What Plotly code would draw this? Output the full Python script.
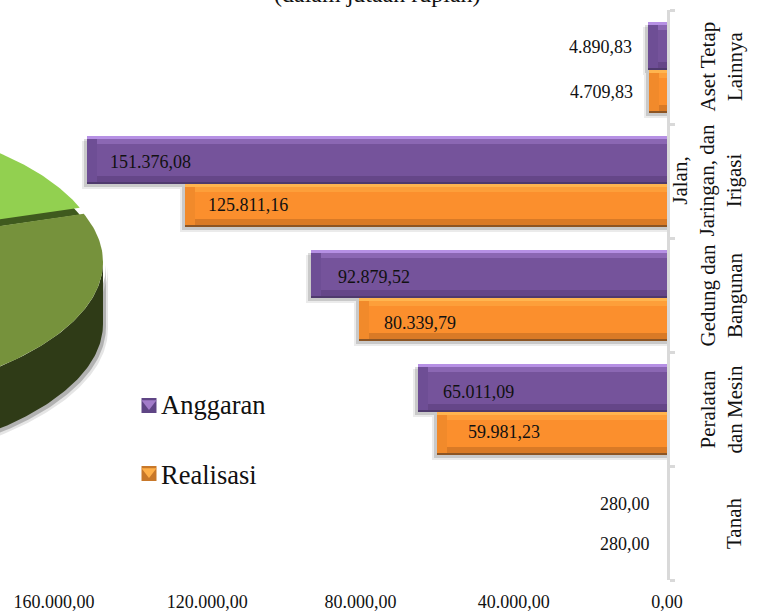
import numpy as np
import plotly.graph_objects as go

categories = ["Tanah", "Peralatan dan Mesin", "Gedung dan Bangunan", "Jalan, Jaringan, dan Irigasi", "Aset Tetap Lainnya"]
category_labels = ["Tanah", "Peralatan<br>dan Mesin", "Gedung dan<br>Bangunan", "Jalan,<br>Jaringan, dan<br>Irigasi", "Aset Tetap<br>Lainnya"]
anggaran = [280.00, 65011.09, 92879.52, 151376.08, 4890.83]
realisasi = [280.00, 59981.23, 80339.79, 125811.16, 4709.83]
anggaran_text = ["280,00", "65.011,09", "92.879,52", "151.376,08", "4.890,83"]
realisasi_text = ["280,00", "59.981,23", "80.339,79", "125.811,16", "4.709,83"]
tick_values = [0, 40000, 80000, 120000, 160000]
tick_labels = ["0,00", "40.000,00", "80.000,00", "120.000,00", "160.000,00"]
pie_shares = [0.30, 0.40, 0.30]   # estimated; only the first two are visible in the crop

FONT = "Liberation Serif"
W, H = 759, 612
PX_X = 160000 / 613
PX_Y = 1 / 114
DOMAIN_X = [54 / W, 667 / W]
DOMAIN_Y = [1 - 580 / H, 1 - 10 / H]
PURPLE = ["#75539b", "#b690e4", "#8b67b3", "#654688", "#6e4e95", "#4f3a6d"]
ORANGE = ["#fb8f2d", "#ffb54f", "#fd9f3a", "#d97a26", "#f18a2b", "#8c5524"]
SWATCH = [("#5f4585", "#a27cc9"), ("#c8782a", "#ffb04a")]

fig = go.Figure()

# ---- cropped pie in the pixel-based overlay axes
CX, CY, A, B = -250, 262, 353, 148
def arc(t0, t1, cx=CX, cy=CY, n=160):
    t = np.radians(np.linspace(t0, t1, n))
    return cx + A * np.cos(t), cy - B * np.sin(t)

def pie_trace(xs, ys, color):
    return go.Scatter(x=xs, y=ys, mode="lines", fill="toself", fillcolor=color,
                      line=dict(width=0, color=color), xaxis="x2", yaxis="y2",
                      showlegend=False, hoverinfo="skip")

START = 127.0
edges = START - 360 * np.cumsum([0] + pie_shares)
light_a, light_b = edges[0], edges[1]
olive_a, olive_b = edges[1], edges[2]
DEPTH = 62

def slice_poly(t0, t1, cx=CX, cy=CY):
    xs, ys = arc(t0, t1, cx, cy)
    return np.r_[cx, xs, cx], np.r_[cy, ys, cy]

def wall_poly(t0, t1, dx=0, dy=DEPTH):
    xs, ys = arc(t0, t1)
    return np.r_[xs, xs[::-1] + dx], np.r_[ys, ys[::-1] + dy]

for sx, sy, col in [(5, 5, "rgba(0,0,0,0.10)"), (3, 3, "rgba(0,0,0,0.22)")]:
    xs, ys = wall_poly(max(0, olive_a - 20), olive_b)
    fig.add_trace(pie_trace(xs + sx, ys + sy, col))
xs, ys = wall_poly(max(0, olive_a - 20), olive_b)
fig.add_trace(pie_trace(xs, ys, "#2f3b17"))

LX, LY = CX - 4, CY - 6
xs, ys = slice_poly(light_a, light_b, LX, LY)
fig.add_trace(pie_trace(xs, ys + 7, "#3f5a1e"))
xs, ys = slice_poly(olive_a, olive_b)
fig.add_trace(pie_trace(xs, ys, "#76923c"))
xs, ys = slice_poly(light_a, light_b, LX, LY)
fig.add_trace(pie_trace(xs, ys, "#92d050"))

# ---- bars
def bar(vals, offset, width, color, name=None, base=None, legend=False):
    return go.Bar(y=categories, x=vals, base=base, orientation="h", offset=offset, width=width,
                  marker=dict(color=color, line=dict(width=0)), name=name,
                  legendgroup=name if legend else None, showlegend=legend, hoverinfo="skip")

P_OFF, P_W = -3 * PX_Y, 48 * PX_Y
O_OFF, O_W = -46 * PX_Y, 43 * PX_Y
anggaran_arr, realisasi_arr = np.array(anggaran), np.array(realisasi)

def seen(vals):
    # a bar under about one pixel wide does not show in the reference
    return np.where(vals > 1000, vals, 0)

# soft shadows
for grow, drop, col in [(5, 5, "rgba(0,0,0,0.08)"), (3, 3, "rgba(0,0,0,0.14)")]:
    for vals, off, wid in [(anggaran_arr, P_OFF, P_W), (realisasi_arr, O_OFF, O_W)]:
        shown = np.where(vals > 1000, vals + grow * PX_X, 0)
        fig.add_trace(bar(shown, off - drop * PX_Y, wid, col))

def bevel(vals, off, wid, cols):
    main, top, top2, bot, left, edge = cols
    v = seen(vals)
    fig.add_trace(bar(v, off, wid, main))
    fig.add_trace(bar(v, off + wid - 3 * PX_Y, 3 * PX_Y, top))
    fig.add_trace(bar(v, off + wid - 8 * PX_Y, 5 * PX_Y, top2))
    fig.add_trace(bar(v, off + 2 * PX_Y, 6 * PX_Y, bot))
    fig.add_trace(bar(v, off, 2 * PX_Y, edge))
    fig.add_trace(bar(np.where(vals > 1000, -10 * PX_X, 0), off + 2 * PX_Y, wid - 5 * PX_Y, left, base=vals))

bevel(anggaran_arr, P_OFF, P_W, PURPLE)
bevel(realisasi_arr, O_OFF, O_W, ORANGE)

# legend entries: real legend text, glyph drawn separately so it sits close to the text
fig.add_trace(bar(anggaran, P_OFF, P_W, "rgba(0,0,0,0)", name="Anggaran", legend=True))
fig.add_trace(bar(realisasi, O_OFF, O_W, "rgba(0,0,0,0)", name="Realisasi", legend=True))
for yy, (body, light) in zip([405.5, 473.5], SWATCH):
    fig.add_trace(go.Scatter(x=[149, 149], y=[yy, yy - 2], mode="markers", xaxis="x2", yaxis="y2",
                             marker=dict(symbol=["square", "triangle-down"], size=[15, 13],
                                         color=[body, light], opacity=1, line=dict(width=0)),
                             showlegend=False, hoverinfo="skip"))

layout_annotations = []
label_sets = [
    (anggaran, anggaran_text, 19, [0, -2, 0, -4, 0], [0, 2, 1, 0, -1]),
    (realisasi, realisasi_text, -22, [0, 4, -2, -4, 0], [-1, 1, 6, 2, 3]),
]
for vals, texts, shift, nudge_x, nudge_y in label_sets:
    for c, v, s, nx, ny in zip(categories, vals, texts, nudge_x, nudge_y):
        inside = v > 20000
        layout_annotations.append(dict(
            x=v, y=c, xref="x", yref="y", text=s, showarrow=False,
            xanchor="left" if inside else "right", yanchor="middle",
            xshift=(25 if inside else -14) + nx, yshift=shift - ny,
            font=dict(family=FONT, size=18, color="#111111")))
for c, lab in zip(categories, category_labels):
    layout_annotations.append(dict(
        x=748 / W, y=c, xref="paper", yref="y", text=lab, showarrow=False, textangle=-90,
        xanchor="right", yanchor="middle", align="center",
        font=dict(family=FONT, size=21, color="#111111")))
layout_annotations.append(dict(
    x=377 / W, y=1 - 9 / H, xref="paper", yref="paper", text="(dalam jutaan rupiah)",
    showarrow=False, xanchor="center", yanchor="bottom",
    font=dict(family=FONT, size=24, color="#111111")))

fig.update_layout(
    width=W, height=H, margin=dict(l=0, r=0, t=0, b=0, autoexpand=False),
    paper_bgcolor="white", plot_bgcolor="rgba(0,0,0,0)",
    barmode="overlay", bargap=0,
    font=dict(family=FONT, color="#111111"),
    annotations=layout_annotations,
    legend=dict(x=129 / W, y=1 - 380 / H, xanchor="left", yanchor="top", indentation=-8,
                font=dict(family=FONT, size=26.5, color="#111111"), tracegroupgap=32,
                bgcolor="rgba(0,0,0,0)", itemclick=False, itemdoubleclick=False),
    xaxis=dict(domain=DOMAIN_X, range=[160000, 0], tickvals=tick_values, ticktext=tick_labels,
               tickfont=dict(family=FONT, size=18, color="#111111"), ticks="", showgrid=False,
               zeroline=False, showline=False, ticklabelstandoff=9, anchor="y", automargin=False),
    yaxis=dict(domain=DOMAIN_Y, type="category", categoryorder="array", categoryarray=categories,
               range=[-0.5, 4.5], side="right", anchor="x", tickson="boundaries", automargin=False,
               ticks="outside", ticklen=5, tickwidth=3, tickcolor="#d9d9d9", showticklabels=False,
               showline=True, linecolor="#d9d9d9", linewidth=3, showgrid=False, zeroline=False),
    xaxis2=dict(domain=[0, 1], range=[0, W], visible=False, anchor="y2", fixedrange=True, automargin=False),
    yaxis2=dict(domain=[0, 1], range=[H, 0], visible=False, anchor="x2", fixedrange=True, automargin=False),
)

fig.write_html("out.html", config=dict(displayModeBar=False),
               post_script="document.body.style.margin='0';")
